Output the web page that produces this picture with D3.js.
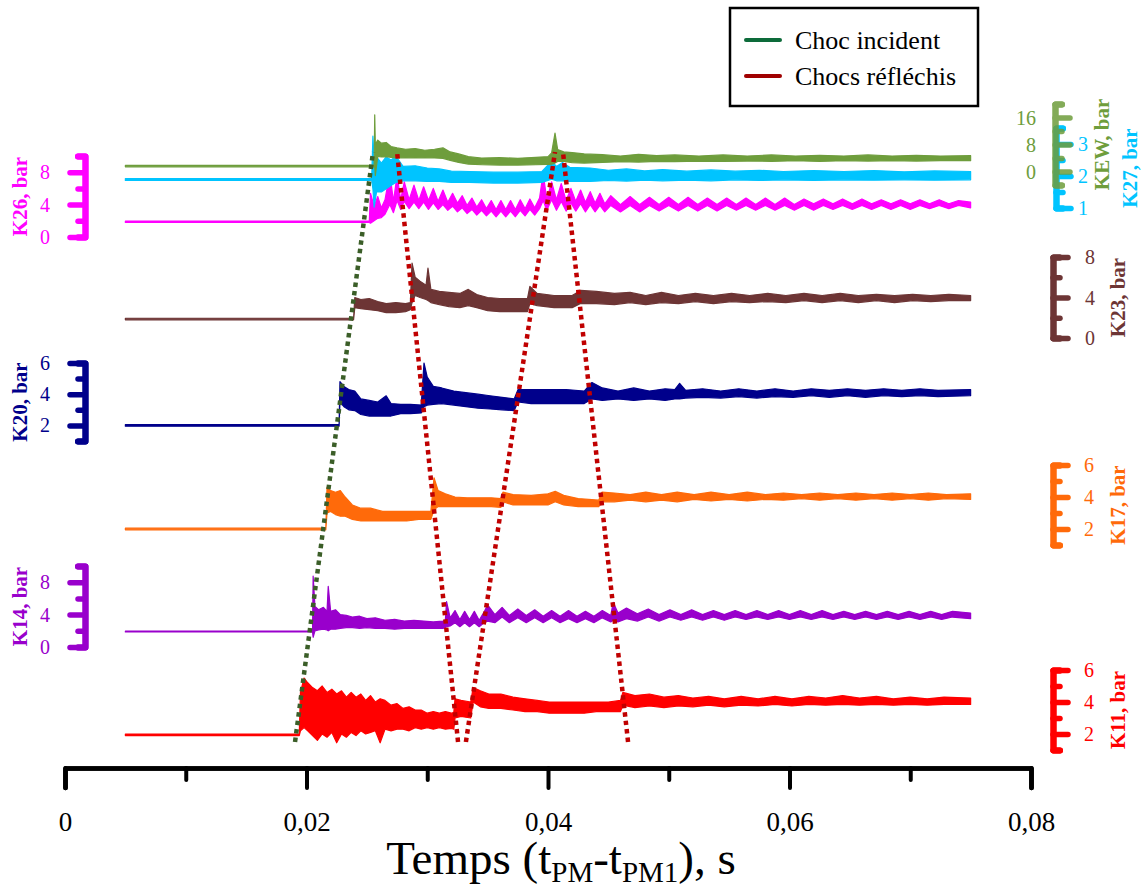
<!DOCTYPE html>
<html><head><meta charset="utf-8">
<script src="https://cdn.jsdelivr.net/npm/d3@7"></script>
<style>
body{margin:0;background:#fff}
svg{display:block}
text{font-family:"Liberation Serif","Times New Roman",serif}
</style>
</head><body>
<svg id="chart" width="1143" height="890" font-family="Liberation Serif, Times New Roman, serif"></svg>
<script>
// ---------------- DATA (rows: [time s, low bar, high bar]) ----------------
const kew = [[0.005,1.4,1.8],[0.0256,1.4,1.8],[0.02565,1.6,16.8],[0.0257,-1.2,8],[0.0259,4.5,9.3],[0.0262,4.3,8.4],[0.0266,4.4,8.6],[0.0270,4.2,7.4],[0.0275,4.0,7.0],[0.0282,4.1,6.6],[0.0290,4.0,6.8],[0.0298,4.1,6.3],[0.0306,4.0,6.6],[0.0313,3.9,7.0],[0.0319,3.3,5.8],[0.0326,2.7,5.2],[0.0334,2.2,4.4],[0.0345,2.0,4.0],[0.0360,1.9,4.1],[0.0375,1.9,3.9],[0.0390,2.0,4.2],[0.0400,2.1,4.4],[0.0403,2.2,5.5],[0.04058,2.5,11.4],[0.0408,3.0,6.5],[0.0413,3.0,5.8],[0.0420,2.6,5.6],[0.0430,2.5,5.2],[0.0445,2.7,5.0],[0.0460,2.9,4.6],[0.0475,2.8,5.1],[0.0490,3.0,4.7],[0.0505,2.9,4.9],[0.0525,3.1,4.6],[0.0545,3.0,4.9],[0.0565,3.1,4.6],[0.0585,3.0,4.9],[0.0605,3.2,4.6],[0.0625,3.0,4.8],[0.0645,3.2,4.6],[0.0665,3.1,4.9],[0.0685,3.2,4.6],[0.0705,3.1,4.8],[0.0725,3.2,4.6],[0.0750,3.2,4.7]];
const k27 = [[0.005,1.86,1.92],[0.0254,1.86,1.92],[0.0255,1.6,3.25],[0.0256,1.03,2.5],[0.0258,1.5,2.6],[0.0262,1.5,2.4],[0.0266,1.6,2.6],[0.0270,1.7,2.5],[0.0274,1.8,2.62],[0.0280,1.85,2.3],[0.0290,1.85,2.32],[0.0300,1.83,2.25],[0.0310,1.83,2.22],[0.0320,1.8,2.15],[0.0335,1.8,2.14],[0.0355,1.78,2.12],[0.0375,1.78,2.12],[0.0395,1.8,2.14],[0.0403,1.9,2.46],[0.0407,1.85,2.3],[0.0412,1.85,2.42],[0.0418,1.83,2.27],[0.0435,1.83,2.25],[0.0450,1.86,2.18],[0.0465,1.84,2.22],[0.0480,1.87,2.16],[0.0495,1.85,2.2],[0.0515,1.87,2.15],[0.0535,1.85,2.19],[0.0555,1.88,2.15],[0.0575,1.86,2.18],[0.0595,1.88,2.14],[0.0620,1.86,2.17],[0.0645,1.88,2.14],[0.0670,1.87,2.17],[0.0695,1.88,2.13],[0.0720,1.87,2.16],[0.0750,1.88,2.14]];
const k26 = [[0.005,1.8,1.95],[0.0252,1.8,1.95],[0.0253,1.7,5.4],[0.0256,2.0,3.8],[0.0259,2.3,5.0],[0.0262,2.4,3.6],[0.0265,2.8,4.6],[0.0269,4.0,7.9],[0.0272,3.0,4.4],[0.0275,4.5,7.6],[0.0278,3.4,4.6],[0.0281,4.4,6.8],[0.0285,3.5,4.6],[0.0289,4.3,6.4],[0.0293,3.5,4.5],[0.0297,4.3,6.2],[0.0301,3.4,4.5],[0.0305,4.2,6.0],[0.0309,3.4,4.4],[0.0313,4.0,5.8],[0.0317,3.3,4.3],[0.0321,3.8,5.4],[0.0325,3.1,4.2],[0.0329,3.6,5.1],[0.0333,2.9,3.9],[0.0337,3.4,4.8],[0.0341,2.7,3.7],[0.0345,3.3,4.6],[0.0349,2.6,3.5],[0.0353,3.2,4.5],[0.0357,2.5,3.4],[0.0361,3.2,4.5],[0.0365,2.5,3.4],[0.0369,3.2,4.5],[0.0373,2.5,3.4],[0.0377,3.3,4.6],[0.0381,2.6,3.5],[0.0385,3.4,4.7],[0.0389,2.7,3.6],[0.0393,3.5,4.8],[0.0396,4.5,7.9],[0.0399,3.3,4.6],[0.0403,4.6,6.8],[0.0407,3.3,4.6],[0.0411,4.4,6.6],[0.0415,3.2,4.5],[0.0419,4.2,6.0],[0.0423,3.2,4.4],[0.0427,4.1,5.8],[0.0431,3.1,4.3],[0.0435,4.0,5.6],[0.0439,3.1,4.2],[0.0443,3.9,5.4],[0.0447,3.1,4.1],[0.0452,3.9,5.1],[0.0460,3.1,4.0],[0.0468,3.9,5.0],[0.0476,3.1,4.0],[0.0484,3.9,4.9],[0.0492,3.2,4.0],[0.0500,3.9,4.9],[0.0508,3.2,4.0],[0.0516,3.9,4.9],[0.0524,3.2,4.0],[0.0532,3.9,4.8],[0.0540,3.2,4.0],[0.0548,3.9,4.8],[0.0556,3.3,4.0],[0.0564,3.9,4.8],[0.0572,3.3,4.0],[0.0580,3.9,4.8],[0.0588,3.3,4.0],[0.0596,3.9,4.8],[0.0604,3.3,4.0],[0.0612,3.9,4.7],[0.0620,3.3,4.1],[0.0628,3.9,4.7],[0.0636,3.4,4.1],[0.0644,3.9,4.7],[0.0652,3.4,4.1],[0.0660,3.9,4.7],[0.0668,3.4,4.1],[0.0676,3.9,4.6],[0.0684,3.4,4.1],[0.0692,3.9,4.6],[0.0700,3.4,4.1],[0.0708,3.9,4.6],[0.0716,3.5,4.1],[0.0724,3.9,4.6],[0.0732,3.5,4.1],[0.0740,3.9,4.5],[0.0750,3.6,4.3]];
const k23 = [[0.005,1.8,1.95],[0.0239,1.8,1.95],[0.0240,3.0,4.0],[0.0245,2.9,3.8],[0.0252,2.8,3.9],[0.0259,2.7,3.6],[0.0266,2.5,3.4],[0.0274,2.5,3.5],[0.0282,2.6,3.4],[0.0286,2.8,3.5],[0.02874,3.5,7.4],[0.0290,4.2,6.0],[0.0294,4.0,5.6],[0.0299,3.8,5.2],[0.03006,3.7,6.9],[0.0303,3.5,4.8],[0.0310,3.3,4.6],[0.0318,3.1,4.5],[0.0327,3.0,4.4],[0.0334,3.2,4.8],[0.0341,3.0,4.3],[0.0350,2.7,4.0],[0.0360,2.6,3.9],[0.0370,2.6,3.9],[0.0383,2.6,3.9],[0.0385,3.4,5.1],[0.0391,3.2,4.4],[0.0405,3.0,4.2],[0.0420,3.0,4.2],[0.0427,3.4,4.7],[0.0440,3.4,4.6],[0.0455,3.3,4.4],[0.0468,3.5,4.5],[0.0481,3.3,4.2],[0.0494,3.5,4.5],[0.0508,3.4,4.2],[0.0522,3.6,4.4],[0.0537,3.4,4.2],[0.0552,3.6,4.4],[0.0567,3.5,4.2],[0.0582,3.6,4.4],[0.0597,3.5,4.2],[0.0612,3.7,4.4],[0.0627,3.5,4.2],[0.0642,3.7,4.4],[0.0657,3.5,4.2],[0.0672,3.7,4.3],[0.0687,3.5,4.2],[0.0702,3.7,4.3],[0.0717,3.6,4.2],[0.0732,3.7,4.3],[0.0750,3.7,4.2]];
const k20 = [[0.005,1.95,2.05],[0.0227,1.95,2.05],[0.02277,3.5,4.8],[0.0231,3.2,4.5],[0.0235,3.0,4.3],[0.0240,2.95,4.2],[0.0245,2.7,3.7],[0.0252,2.6,3.6],[0.0259,2.6,3.5],[0.0266,2.6,3.9],[0.0270,2.6,3.4],[0.0278,2.75,3.35],[0.0286,2.75,3.35],[0.0295,2.8,3.3],[0.02973,3.2,6.0],[0.0300,3.3,5.1],[0.0305,3.35,4.5],[0.0312,3.4,4.4],[0.0322,3.3,4.2],[0.0332,3.2,4.1],[0.0342,3.1,4.0],[0.0352,3.05,3.9],[0.0362,3.0,3.8],[0.0372,2.95,3.7],[0.03752,3.5,4.3],[0.0386,3.4,4.3],[0.0400,3.4,4.3],[0.0415,3.4,4.3],[0.0430,3.4,4.2],[0.04364,3.7,4.75],[0.0445,3.6,4.4],[0.0458,3.7,4.2],[0.0471,3.6,4.4],[0.0484,3.7,4.2],[0.0497,3.6,4.35],[0.0505,3.7,4.3],[0.0509,3.7,4.7],[0.0514,3.75,4.25],[0.0528,3.8,4.35],[0.0543,3.75,4.2],[0.0558,3.85,4.35],[0.0573,3.75,4.2],[0.0588,3.85,4.35],[0.0603,3.8,4.2],[0.0618,3.9,4.35],[0.0633,3.8,4.25],[0.0648,3.9,4.35],[0.0663,3.8,4.25],[0.0678,3.9,4.35],[0.0693,3.85,4.25],[0.0708,3.9,4.35],[0.0723,3.85,4.25],[0.0750,3.9,4.3]];
const k17 = [[0.005,1.95,2.05],[0.0216,1.95,2.05],[0.0217,3.0,4.6],[0.0220,3.1,4.4],[0.0224,2.9,4.3],[0.0228,2.8,4.4],[0.0232,2.8,4.0],[0.0238,2.6,3.5],[0.0245,2.5,3.3],[0.0253,2.5,3.3],[0.0263,2.5,3.1],[0.0273,2.5,3.1],[0.0283,2.5,3.1],[0.0293,2.6,3.1],[0.0303,2.6,3.1],[0.03056,3.2,5.2],[0.0309,3.4,4.4],[0.0315,3.4,4.2],[0.0323,3.4,4.0],[0.0333,3.4,3.95],[0.0343,3.4,3.95],[0.0353,3.4,3.95],[0.0361,3.35,3.9],[0.03627,3.7,4.3],[0.0371,3.5,4.15],[0.0386,3.5,4.1],[0.0400,3.5,4.2],[0.0406,3.7,4.35],[0.0413,3.5,4.1],[0.0425,3.4,3.9],[0.0442,3.4,3.8],[0.04447,3.7,4.3],[0.0455,3.7,4.25],[0.0468,3.8,4.15],[0.0481,3.7,4.3],[0.0494,3.8,4.15],[0.0507,3.7,4.3],[0.0521,3.85,4.15],[0.0535,3.75,4.3],[0.0550,3.85,4.15],[0.0565,3.75,4.3],[0.0580,3.85,4.15],[0.0595,3.8,4.25],[0.0610,3.9,4.15],[0.0625,3.8,4.25],[0.0640,3.9,4.15],[0.0655,3.8,4.25],[0.0670,3.9,4.15],[0.0685,3.8,4.25],[0.0700,3.9,4.15],[0.0715,3.8,4.25],[0.0730,3.9,4.15],[0.0750,3.85,4.2]];
const k14 = [[0.005,1.85,1.95],[0.0205,1.85,1.95],[0.02055,1.2,8.75],[0.0207,2.0,5.0],[0.0210,2.1,4.6],[0.0214,2.2,4.9],[0.0217,2.1,4.4],[0.0218,2.0,7.5],[0.0220,2.2,4.4],[0.0224,2.2,4.6],[0.0228,2.3,4.0],[0.0233,2.4,3.9],[0.0238,2.4,3.7],[0.0244,2.3,3.8],[0.0250,2.4,3.5],[0.0257,2.3,3.6],[0.0265,2.3,3.3],[0.0273,2.2,3.4],[0.0281,2.3,3.2],[0.0289,2.3,3.3],[0.0297,2.3,3.2],[0.0305,2.3,3.1],[0.0313,2.3,3.2],[0.0315,2.4,3.3],[0.0316,2.5,5.6],[0.0319,2.6,3.6],[0.0323,3.0,4.5],[0.0327,2.5,3.4],[0.0331,3.0,4.4],[0.0335,2.5,3.4],[0.0339,3.0,4.4],[0.0343,2.5,3.3],[0.0347,3.0,4.3],[0.0350,3.2,5.2],[0.0356,3.0,4.0],[0.0362,3.7,4.9],[0.0368,3.0,3.9],[0.0375,3.6,4.7],[0.0382,3.0,3.9],[0.0389,3.6,4.6],[0.0396,3.0,3.8],[0.0403,3.6,4.5],[0.0410,3.0,3.8],[0.0417,3.5,4.5],[0.0424,3.0,3.8],[0.0431,3.5,4.4],[0.0438,3.0,3.8],[0.0445,3.6,4.5],[0.0452,3.1,3.9],[0.0454,3.3,5.5],[0.0458,3.1,4.2],[0.0465,3.5,4.8],[0.0474,3.2,4.1],[0.0483,3.7,4.7],[0.0492,3.2,4.0],[0.0501,3.7,4.6],[0.0510,3.3,4.0],[0.0519,3.7,4.6],[0.0528,3.3,4.0],[0.0537,3.7,4.5],[0.0546,3.3,4.0],[0.0555,3.7,4.5],[0.0564,3.4,4.0],[0.0573,3.7,4.5],[0.0582,3.4,4.0],[0.0591,3.7,4.5],[0.0600,3.4,4.0],[0.0609,3.7,4.5],[0.0618,3.4,4.0],[0.0627,3.7,4.5],[0.0636,3.4,4.0],[0.0645,3.7,4.4],[0.0654,3.4,4.0],[0.0663,3.7,4.4],[0.0672,3.4,4.0],[0.0681,3.7,4.4],[0.0690,3.4,4.0],[0.0699,3.7,4.4],[0.0708,3.4,4.0],[0.0717,3.7,4.4],[0.0726,3.4,4.0],[0.0735,3.7,4.4],[0.0750,3.5,4.2]];
const k11 = [[0.005,1.9,2.0],[0.0194,1.9,2.0],[0.0195,2.2,4.6],[0.0198,2.4,5.5],[0.0201,2.2,5.2],[0.0205,1.9,4.9],[0.0209,1.6,4.7],[0.0213,2.0,5.0],[0.0217,1.8,4.6],[0.0221,2.1,4.8],[0.0225,1.45,4.5],[0.0229,2.0,4.7],[0.0233,1.8,4.3],[0.0237,2.1,4.6],[0.0241,1.9,4.3],[0.0245,2.2,4.5],[0.0249,2.0,4.1],[0.0253,2.1,4.4],[0.0257,2.2,4.0],[0.0261,1.45,4.2],[0.0265,2.3,4.1],[0.0270,2.2,3.8],[0.0275,2.3,3.9],[0.0280,2.3,3.6],[0.0285,2.2,3.7],[0.0290,2.4,3.5],[0.0295,2.3,3.5],[0.0300,2.4,3.3],[0.0305,2.3,3.4],[0.0310,2.4,3.3],[0.0315,2.3,3.4],[0.0320,2.35,3.3],[0.0322,2.3,3.35],[0.0323,3.0,4.2],[0.0328,3.1,4.1],[0.0336,3.0,4.0],[0.0338,4.0,4.9],[0.0344,3.7,4.7],[0.0351,3.6,4.5],[0.0361,3.6,4.5],[0.0371,3.5,4.3],[0.0381,3.4,4.2],[0.0391,3.4,4.1],[0.0401,3.3,4.0],[0.0411,3.3,4.0],[0.0421,3.3,4.0],[0.0430,3.3,4.0],[0.0440,3.4,4.0],[0.0450,3.4,4.0],[0.0460,3.4,4.1],[0.0462,3.8,4.6],[0.0472,3.65,4.4],[0.0484,3.75,4.5],[0.0496,3.65,4.3],[0.0508,3.75,4.4],[0.0520,3.7,4.25],[0.0533,3.8,4.35],[0.0546,3.7,4.2],[0.0560,3.8,4.35],[0.0574,3.75,4.2],[0.0588,3.85,4.35],[0.0602,3.75,4.2],[0.0616,3.85,4.35],[0.0630,3.8,4.25],[0.0644,3.85,4.4],[0.0658,3.8,4.25],[0.0672,3.85,4.35],[0.0686,3.8,4.2],[0.0700,3.85,4.3],[0.0714,3.8,4.2],[0.0728,3.85,4.3],[0.0750,3.85,4.25]];

// tick labels
const xMajorTicks = [0, 0.02, 0.04, 0.06, 0.08];
const xMinorTicks = [0.01, 0.03, 0.05, 0.07];
const ticksKEW = [0, 8, 16],  minorKEW = [-4, 4, 12, 20];
const ticksK27 = [1, 2, 3],   minorK27 = [1.5, 2.5, 3.5];
const ticksK26 = [0, 4, 8],   minorK26 = [2, 6, 10];
const ticksK23 = [0, 4, 8],   minorK23 = [2, 6];
const ticksK20 = [2, 4, 6],   minorK20 = [1, 3, 5];
const ticksK17 = [2, 4, 6],   minorK17 = [1, 3, 5];
const ticksK14 = [0, 4, 8],   minorK14 = [2, 6, 10];
const ticksK11 = [2, 4, 6],   minorK11 = [1, 3, 5];

// shock trajectories: [time at bottom, time at top]
const incidentShock = [[0.01905, 0.02551]];
const reflectedShocks = [[0.03255, 0.02750], [0.03320, 0.04058], [0.04663, 0.04124]];
const legendLabels = ["Choc incident", "Chocs réfléchis"];
const xTitle = ["Temps (t", "PM", "-t", "PM1", "), s"];

// ---------------- LAYOUT ----------------
const FONT = "Liberation Serif, Times New Roman, serif";
const svg = d3.select("#chart");
const x = d3.scaleLinear([0, 0.08], [65, 1031]);
const AXIS_Y = 768, SHOCK_TOP = 152, SHOCK_BOTTOM = 742;

const series = [
  {name:"K26", data:k26, color:"#ff00ff", domain:[0,10], range:[237,156], ax:85, dir:-1, major:ticksK26, minor:minorK26, labelX:45, labelAnchor:"middle", titleX:20},
  {name:"K27", data:k27, color:"#00c4ff", domain:[1,3.5], range:[208,128], ax:1056, dir:1, major:ticksK27, minor:minorK27, labelX:1083, labelAnchor:"middle", titleX:1130},
  {name:"KEW", data:kew, color:"#6e9d3c", domain:[-4,20], range:[185,104], ax:1055, dir:1, major:ticksKEW, minor:minorKEW, labelX:1036, labelAnchor:"end", titleX:1102, opacity:0.85},
  {name:"K23", data:k23, color:"#6d3535", domain:[0,8], range:[338,257], ax:1053, dir:1, major:ticksK23, minor:minorK23, labelX:1090, labelAnchor:"middle", titleX:1118},
  {name:"K20", data:k20, color:"#00008b", domain:[1,6], range:[441,363], ax:85, dir:-1, major:ticksK20, minor:minorK20, labelX:45, labelAnchor:"middle", titleX:20},
  {name:"K17", data:k17, color:"#ff6a0a", domain:[1,6], range:[545,465], ax:1053, dir:1, major:ticksK17, minor:minorK17, labelX:1089, labelAnchor:"middle", titleX:1118},
  {name:"K14", data:k14, color:"#9900cc", domain:[0,10], range:[647,566], ax:85, dir:-1, major:ticksK14, minor:minorK14, labelX:45, labelAnchor:"middle", titleX:20},
  {name:"K11", data:k11, color:"#ff0000", domain:[1,6], range:[750,670], ax:1053, dir:1, major:ticksK11, minor:minorK11, labelX:1089, labelAnchor:"middle", titleX:1118}
];
series.forEach(s => s.y = d3.scaleLinear(s.domain, s.range));

// ---------------- SIGNALS ----------------
const gSig = svg.append("g");
series.forEach(s => {
  const area = d3.area().x(d => x(d[0])).y0(d => s.y(d[1])).y1(d => s.y(d[2]));
  gSig.append("path").datum(s.data).attr("d", area)
    .attr("fill", s.color).attr("stroke", s.color).attr("stroke-width", 1.2).attr("stroke-linejoin", "round");
});

// ---------------- SHOCK LINES ----------------
const gShock = svg.append("g").attr("fill", "none").attr("stroke-width", 4.5).attr("stroke-dasharray", "4.5,4");
incidentShock.forEach(d => gShock.append("line")
  .attr("x1", x(d[0])).attr("y1", SHOCK_BOTTOM).attr("x2", x(d[1])).attr("y2", SHOCK_TOP).attr("stroke", "#3b5e28"));
reflectedShocks.forEach(d => gShock.append("line")
  .attr("x1", x(d[0])).attr("y1", SHOCK_BOTTOM).attr("x2", x(d[1])).attr("y2", SHOCK_TOP).attr("stroke", "#c00000"));

// ---------------- SERIES AXES ----------------
const MAJ = 15, MIN = 7;
series.forEach(s => {
  const g = svg.append("g").attr("transform", `translate(${s.ax},0)`).attr("opacity", s.opacity || 1);
  const mk = (vals, len) => (s.dir < 0 ? d3.axisLeft(s.y) : d3.axisRight(s.y))
      .tickValues(vals).tickFormat("").tickSizeInner(len).tickSizeOuter(MIN);
  g.append("g").call(mk(s.minor, MIN));
  g.append("g").call(mk(s.major, MAJ));
  g.selectAll(".domain").attr("stroke", s.color).attr("stroke-width", 6)
    .attr("stroke-linecap", "round").attr("stroke-linejoin", "round");
  g.selectAll(".tick line").attr("stroke", s.color).attr("stroke-width", 5.5).attr("stroke-linecap", "round");
  g.selectAll(".tick text").remove();
  svg.append("g").selectAll("text").data(s.major).join("text")
    .attr("x", s.labelX).attr("y", d => s.y(d)).attr("dy", "0.35em").attr("font-family", FONT)
    .attr("text-anchor", s.labelAnchor).attr("font-size", 20).attr("fill", s.color).text(d => d);
  svg.append("text").attr("transform", `translate(${s.titleX},${(s.range[0] + s.range[1]) / 2}) rotate(-90)`)
    .attr("text-anchor", "middle").attr("dy", "0.35em").attr("font-size", 21).attr("font-weight", "bold")
    .attr("font-family", FONT).attr("fill", s.color).text(`${s.name}, bar`);
});

// ---------------- X AXIS ----------------
const fmt = d => d === 0 ? "0" : d3.format(".2f")(d).replace(".", ",");
const gx = svg.append("g").attr("transform", `translate(0,${AXIS_Y})`);
gx.append("g").call(d3.axisBottom(x).tickValues(xMinorTicks).tickSizeInner(12).tickSizeOuter(20).tickFormat(""));
gx.append("g").call(d3.axisBottom(x).tickValues(xMajorTicks).tickSizeInner(20).tickSizeOuter(20).tickFormat(fmt).tickPadding(24));
gx.selectAll(".domain").attr("stroke", "#000").attr("stroke-width", 4.5).attr("stroke-linejoin", "round").attr("stroke-linecap", "round");
gx.selectAll(".tick line").attr("stroke", "#000").attr("stroke-width", 4).attr("stroke-linecap", "round");
gx.selectAll(".tick text").attr("font-size", 27).attr("font-family", FONT).attr("fill", "#000");

const title = svg.append("text").attr("x", 561).attr("y", 874).attr("text-anchor", "middle")
  .attr("font-size", 47).attr("font-family", FONT).attr("fill", "#000");
xTitle.forEach((t, i) => {
  const sub = i % 2 === 1;
  title.append("tspan").attr("font-size", sub ? 29 : 47).attr("dy", sub ? 8 : (i > 0 ? -8 : 0)).text(t);
});

// ---------------- LEGEND ----------------
const lg = svg.append("g");
lg.append("rect").attr("x", 730).attr("y", 8).attr("width", 248).attr("height", 98)
  .attr("fill", "#fff").attr("stroke", "#000").attr("stroke-width", 2.5);
const legColors = ["#0d6b3a", "#a00000"];
legendLabels.forEach((lab, i) => {
  const yy = 40 + i * 36;
  lg.append("line").attr("x1", 746).attr("x2", 780).attr("y1", yy).attr("y2", yy)
    .attr("stroke", legColors[i]).attr("stroke-width", 4).attr("stroke-linecap", "round");
  lg.append("text").attr("x", 795).attr("y", yy).attr("dy", "0.33em").attr("font-size", 26)
    .attr("font-family", FONT).attr("fill", "#000").text(lab);
});
</script>
</body></html>
